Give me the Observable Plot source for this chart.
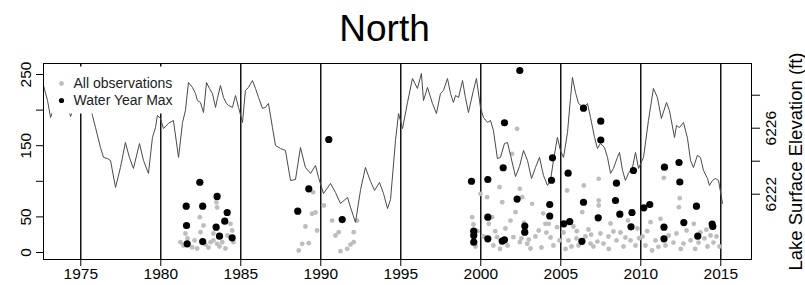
<!DOCTYPE html>
<html>
<head>
<meta charset="utf-8">
<script src="https://cdn.jsdelivr.net/npm/d3@7"></script>
<script src="https://cdn.jsdelivr.net/npm/@observablehq/plot@0.6"></script>
<style>
  body { margin: 0; background: #fff; }
  svg { display: block; }
</style>
</head>
<body>
<div id="chart"></div>
<script>
// ---------- text ----------
const title = "North";
const rightTitle = "Lake Surface Elevation (ft)";
const legendLabels = ["All observations", "Water Year Max"];

// ---------- ticks ----------
const xTicks = [1975, 1980, 1985, 1990, 1995, 2000, 2005, 2010, 2015];
const leftTicks = [0, 50, 100, 150, 200, 250];
const leftTickLabels = ["0", "50", "", "150", "", "250"];
const elevTicks = [6222, 6224, 6226, 6228];
const elevTickLabels = ["6222", "", "6226", ""];

// ---------- lake surface elevation (ft) ----------
const lineYear = [
  1972.67,1972.92,1973.11,1973.73,1974.11,1974.36,1974.73,1975.23,1975.61,1975.73,
  1975.92,1976.23,1976.42,1976.67,1976.86,1977.17,1977.48,1977.79,1978.04,1978.29,
  1978.67,1978.92,1979.23,1979.48,1979.67,1979.79,1979.98,1980.17,1980.48,1980.79,
  1981.11,1981.36,1981.54,1981.73,1981.98,1982.17,1982.29,1982.48,1982.67,1982.86,
  1983.04,1983.23,1983.42,1983.54,1983.73,1983.92,1984.11,1984.23,1984.48,1984.67,
  1984.86,1985.11,1985.29,1985.48,1985.73,1985.92,1986.11,1986.36,1986.54,1986.73,
  1986.98,1987.17,1987.48,1987.79,1988.11,1988.42,1988.73,1989.04,1989.36,1989.67,
  1989.86,1990.17,1990.61,1990.92,1991.23,1991.67,1991.86,1992.17,1992.48,1992.79,
  1993.11,1993.36,1993.67,1993.92,1994.17,1994.36,1994.67,1994.86,1995.11,1995.42,
  1995.73,1996.04,1996.29,1996.42,1996.67,1996.98,1997.23,1997.48,1997.67,1997.92,
  1998.11,1998.29,1998.42,1998.61,1998.86,1999.04,1999.23,1999.54,1999.73,1999.98,
  2000.17,2000.42,2000.61,2000.79,2001.04,2001.23,2001.48,2001.67,2001.86,2002.17,
  2002.42,2002.67,2002.92,2003.17,2003.42,2003.67,2003.92,2004.17,2004.36,2004.54,
  2004.79,2004.98,2005.17,2005.42,2005.61,2005.73,2005.92,2006.11,2006.42,2006.67,
  2006.86,2007.11,2007.29,2007.48,2007.73,2007.92,2008.11,2008.29,2008.54,2008.67,
  2008.86,2009.04,2009.23,2009.48,2009.67,2009.86,2010.17,2010.48,2010.79,2011.04,
  2011.29,2011.61,2011.79,2012.11,2012.23,2012.42,2012.67,2012.92,2013.11,2013.29,
  2013.54,2013.73,2013.92,2014.17,2014.29,2014.48,2014.67,2014.86,2015.11
];
const lineElev = [
  6228.59,6227.68,6226.65,6228.29,6227.68,6226.71,6227.68,6227.98,6227.20,6226.77,
  6226.04,6224.83,6224.23,6224.16,6224.04,6222.41,6223.62,6225.13,6224.23,6223.56,
  6225.07,6224.04,6223.26,6225.44,6226.04,6226.77,6226.59,6225.98,6226.29,6226.47,
  6224.23,6226.35,6227.07,6228.77,6228.47,6228.10,6227.68,6227.56,6226.95,6228.77,
  6228.41,6228.10,6227.26,6227.80,6228.59,6227.86,6227.50,6227.38,6227.26,6227.98,
  6227.26,6226.35,6228.29,6228.47,6228.89,6228.41,6227.86,6227.20,6227.26,6227.50,
  6226.04,6224.95,6224.77,6224.65,6222.83,6222.89,6224.83,6223.62,6223.26,6223.74,
  6223.01,6222.04,6222.65,6222.10,6221.44,6221.80,6221.20,6220.29,6222.23,6223.62,
  6222.77,6222.23,6222.71,6222.04,6221.13,6221.68,6225.26,6226.89,6225.98,6227.56,
  6229.01,6228.41,6229.32,6227.68,6228.47,6227.50,6226.89,6228.10,6228.29,6229.01,
  6228.10,6227.56,6227.98,6227.86,6228.89,6227.86,6226.95,6228.29,6229.01,6227.26,
  6226.65,6226.35,6226.47,6225.86,6224.16,6224.23,6225.07,6225.13,6224.35,6223.07,
  6223.68,6224.65,6224.04,6222.95,6223.62,6224.23,6223.13,6222.53,6222.83,6224.04,
  6225.44,6224.65,6224.23,6225.74,6227.86,6229.07,6228.16,6227.50,6227.26,6227.50,
  6226.65,6225.44,6224.77,6225.07,6224.83,6224.23,6223.26,6223.56,6224.23,6224.53,
  6223.44,6222.83,6223.26,6223.62,6224.53,6223.56,6224.23,6226.47,6228.41,6227.86,
  6226.59,6227.56,6227.07,6225.44,6226.16,6226.04,6226.35,6225.38,6224.04,6223.62,
  6224.35,6224.23,6223.44,6222.95,6222.53,6222.83,6222.95,6222.83,6221.44
];

// ---------- water year maxima (left axis units) ----------
const maxYear = [
  1981.59,1981.61,1981.65,1982.44,1982.62,1982.62,1983.52,1983.46,1983.67,1984.15,
  1984.00,1984.46,1988.56,1989.25,1990.50,1991.34,1999.42,1999.56,1999.56,1999.56,
  2000.44,2000.44,2000.44,2001.48,2001.40,2001.48,2001.34,2002.44,2002.27,2002.75,
  2002.75,2004.48,2004.42,2004.31,2004.31,2005.46,2005.19,2005.56,2006.42,2006.42,
  2006.32,2007.50,2007.50,2007.34,2008.48,2008.42,2008.69,2009.54,2009.45,2009.39,
  2010.19,2010.56,2011.48,2011.45,2011.45,2012.39,2012.44,2012.69,2013.48,2013.56,
  2014.46,2014.50
];
const maxValue = [
  65.0,37.9,12.2,98.7,65.0,15.4,78.7,35.5,22.9,56.2,
  44.0,20.6,58.0,89.5,158.7,46.3,100.1,29.9,23.9,14.5,
  102.5,49.6,19.2,182.2,119.0,17.8,16.0,255.6,75.1,37.2,
  28.5,133.0,101.5,67.4,51.3,111.4,40.3,43.5,202.7,70.6,
  15.7,184.4,158.0,48.7,97.3,73.0,53.8,115.2,56.2,36.1,
  62.8,67.4,119.8,35.5,19.2,126.4,99.0,42.1,65.0,22.9,
  40.0,36.5
];

// ---------- all observations (left axis units) ----------
const obsYear = [
  1981.23,1981.42,1981.54,1981.67,1981.96,1982.27,1982.44,1982.48,1982.67,1982.79,
  1982.98,1983.11,1983.29,1983.29,1983.48,1983.52,1983.52,1983.84,1984.04,1984.17,
  1984.36,1984.46,1984.54,1982.11,1983.67,
  1988.62,1988.84,1989.04,1989.25,1989.46,1989.52,1989.67,1989.77,1990.19,1990.71,
  1990.92,1991.12,1991.23,1991.65,1991.86,1992.06,1992.06,1992.27,
  1999.46,1999.54,1999.67,1999.98,2000.17,2000.40,2000.50,2000.71,2000.79,2001.02,
  2001.17,2001.34,2001.54,2001.67,2001.86,2001.96,2002.04,2002.17,2002.27,2002.44,
  2002.44,2002.59,2002.54,2002.90,2003.11,2003.21,2003.42,2003.62,2003.79,2004.04,
  2004.25,2004.36,2004.54,2004.77,2004.92,
  2005.17,2005.40,2005.48,2005.67,2005.79,2005.98,2006.11,2006.34,2006.44,2006.54,
  2006.73,2006.86,2007.04,2007.37,2007.37,2007.37,2007.48,2007.29,2007.67,2007.98,
  2008.11,2008.29,2008.48,2008.73,2008.92,2009.04,2009.36,2009.67,2009.79,
  2010.11,2010.29,2010.61,2010.71,2010.92,2011.23,2011.44,2011.54,2011.75,2012.04,
  2012.23,2012.44,2012.38,2012.67,2012.86,2013.11,2013.31,2013.61,2013.73,2013.98,
  2014.17,2014.36,2014.54,2014.73,2014.92,
  1999.80,2000.90,2001.20,2002.70,2003.00,2003.90,2004.10,2005.30,2006.00,2006.90,
  2008.00,2009.20,2009.90,2010.40,2011.10,2012.50,2013.40,2014.10
];
const obsValue = [
  14.5,9.8,26.7,19.7,7.4,5.6,49.6,28.5,37.9,11.2,
  7.0,14.5,16.9,26.7,70.6,63.2,12.2,14.5,5.6,23.9,
  40.3,30.9,14.5,16.9,8.4,
  2.8,12.2,36.5,13.1,54.4,84.7,56.2,30.9,66.0,44.9,
  23.9,28.5,1.8,5.2,11.2,28.5,14.5,44.9,
  49.6,39.3,8.4,82.4,22.5,77.7,40.3,49.6,9.8,21.5,
  91.7,70.6,33.7,9.8,44.9,138.6,21.5,56.6,173.7,14.5,
  89.5,77.7,19.7,12.2,5.6,68.4,22.5,30.9,7.0,40.3,
  40.3,21.1,9.8,35.5,16.9,
  28.1,87.1,16.9,8.4,36.5,19.7,9.8,56.6,94.1,22.5,
  32.3,12.6,8.4,103.5,73.0,66.0,26.7,15.4,12.6,22.5,
  40.7,29.5,16.9,28.1,8.4,21.1,16.9,9.8,33.7,
  22.5,9.8,42.6,2.8,16.9,47.3,104.9,9.8,23.9,14.0,
  26.7,76.3,63.6,12.6,30.9,16.9,40.3,14.0,28.1,19.7,
  8.4,23.9,14.0,22.5,8.4,
  30.0,30.0,5.0,42.0,18.0,55.0,28.0,5.0,30.0,25.0,
  5.0,45.0,20.0,30.0,8.0,5.0,5.0,32.0
];

// secondary axis: elevation (ft) expressed in left-axis units
const elevRef = 6222, elevRefLeft = 81.9, leftPerFt = 23.17;
const elevToLeft = e => elevRefLeft + leftPerFt * (e - elevRef);

const lineData = lineYear.map((t, i) => ({t, e: lineElev[i]}));
const maxData = maxYear.map((t, i) => ({t, v: maxValue[i]}));
const obsData = obsYear.map((t, i) => ({t, v: obsValue[i]}));

const font = "'Liberation Sans', Arial, Helvetica, sans-serif";

const W = 805, H = 285, mT = 63, mB = 26, mL = 43, mR = 54;
const frameW = W - mL - mR, frameH = H - mT - mB;
// legend box layout (offsets inside the frame)
const lg = {left: 8, top: 3, width: 126, height: 47, symX: 18, textX: 30, row0: 20, rowStep: 17};

const legendMarks = [
  Plot.frame({fill: "white", stroke: null,
    insetLeft: lg.left, insetTop: lg.top,
    insetRight: frameW - lg.left - lg.width, insetBottom: frameH - lg.top - lg.height}),
  Plot.dot([legendLabels[0]], {frameAnchor: "top-left", dx: lg.symX, dy: lg.row0, r: 2.4, fill: "#bdbdbd", stroke: "none"}),
  Plot.dot([legendLabels[1]], {frameAnchor: "top-left", dx: lg.symX, dy: lg.row0 + lg.rowStep, r: 2.6, fill: "black", stroke: "none"}),
  Plot.text([legendLabels[0]], {text: d => d, frameAnchor: "top-left", dx: lg.textX, dy: lg.row0,
    textAnchor: "start", lineAnchor: "middle", fontSize: 14, fill: "#222"}),
  Plot.text([legendLabels[1]], {text: d => d, frameAnchor: "top-left", dx: lg.textX, dy: lg.row0 + lg.rowStep,
    textAnchor: "start", lineAnchor: "middle", fontSize: 14, fill: "#222"})
];

const chart = Plot.plot({
  width: W,
  height: H,
  marginTop: mT,
  marginBottom: mB,
  marginLeft: mL,
  marginRight: mR,
  style: {background: "white", fontFamily: font, fontSize: "15.5px", color: "black"},
  x: {domain: [1972.67, 2016.92], label: null},
  y: {domain: [-9.83, 265.45], label: null},
  marks: [
    Plot.ruleX(xTicks, {stroke: "black", strokeWidth: 1.4}),
    Plot.dot(obsData, {x: "t", y: "v", r: 2.4, fill: "#bdbdbd", stroke: "none"}),
    Plot.line(lineData, {x: "t", y: d => elevToLeft(d.e), stroke: "#4a4a4a", strokeWidth: 1, clip: true}),
    Plot.dot(maxData, {x: "t", y: "v", r: 3.6, fill: "black", stroke: "none"}),
    ...legendMarks,
    Plot.frame({stroke: "black", strokeWidth: 1}),
    Plot.axisX(xTicks, {tickSize: 7, tickPadding: 1, tickFormat: d => String(d), fontSize: 15.5}),
    Plot.axisY(leftTicks, {tickSize: 7, tickFormat: () => ""}),
    Plot.text(leftTicks, {y: d => d, text: (d, i) => leftTickLabels[i], frameAnchor: "left", dx: -13,
      rotate: -90, lineAnchor: "bottom", textAnchor: "middle", fontSize: 15.5}),
    Plot.axisY(elevTicks.map(elevToLeft), {anchor: "right", tickSize: 8, tickFormat: () => ""}),
    Plot.text(elevTicks, {y: d => elevToLeft(d), text: (d, i) => elevTickLabels[i], frameAnchor: "right", dx: 24,
      rotate: -90, lineAnchor: "bottom", textAnchor: "middle", fontSize: 15.5}),
    Plot.text([rightTitle], {text: d => d, frameAnchor: "right", dx: 50, rotate: -90,
      lineAnchor: "bottom", textAnchor: "middle", fontSize: 18.5}),
    Plot.text([title], {text: d => d, frameAnchor: "top", dx: -13, dy: -23, lineAnchor: "bottom", fontSize: 37})
  ]
});

document.getElementById("chart").appendChild(chart);
</script>
</body>
</html>
